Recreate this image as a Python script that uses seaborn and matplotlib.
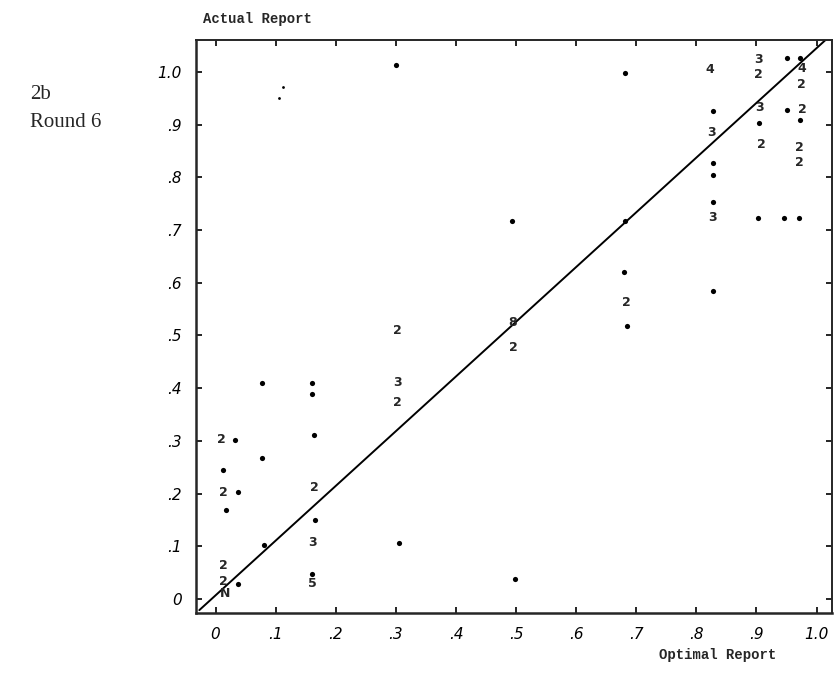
import numpy as np
import pandas as pd
import matplotlib
matplotlib.use('Agg')
import matplotlib.pyplot as plt
import seaborn as sns

sns.set_style('ticks')

##################################################
# Data.
##################################################

# Plain dots (single observations)
dot_x = [0.30, 0.681, 0.493, 0.950, 0.972, 0.827, 0.905, 0.950, 0.972,
         0.827, 0.827, 0.827, 0.902, 0.945, 0.970, 0.681, 0.679, 0.827,
         0.684, 0.078, 0.160, 0.160, 0.163, 0.032, 0.078, 0.013, 0.037,
         0.018, 0.165, 0.080, 0.306, 0.037, 0.161, 0.499]
dot_y = [1.013, 0.998, 0.717, 1.027, 1.027, 0.926, 0.903, 0.928, 0.909,
         0.827, 0.805, 0.753, 0.723, 0.723, 0.723, 0.717, 0.620, 0.584,
         0.518, 0.410, 0.410, 0.389, 0.311, 0.302, 0.268, 0.245, 0.203,
         0.169, 0.150, 0.102, 0.106, 0.028, 0.047, 0.038]

# Faint specks near (.1, .96)
speck_x = [0.112, 0.105]
speck_y = [0.971, 0.951]

# Multiplicity labels written on the chart
lab_x = [0.822, 0.903, 0.903, 0.975, 0.975, 0.825, 0.905, 0.977, 0.908,
         0.972, 0.972, 0.827, 0.684, 0.303, 0.494, 0.496, 0.303, 0.303,
         0.010, 0.013, 0.165, 0.161, 0.013, 0.013, 0.015, 0.161]
lab_y = [1.004, 1.023, 0.996, 1.006, 0.977, 0.886, 0.932, 0.928, 0.863,
         0.856, 0.829, 0.723, 0.562, 0.510, 0.524, 0.478, 0.410, 0.372,
         0.302, 0.203, 0.211, 0.108, 0.063, 0.034, 0.010, 0.030]
lab_text = ['4', '3', '2', '4', '2', '3', '3', '2', '2',
            '2', '2', '3', '2', '2', '8', '2', '3', '2',
            '2', '2', '2', '3', '2', '2', 'N', '5']

# 45-degree reference line (corner to corner as drawn)
line_x = [-0.027, 1.022]
line_y = [-0.021, 1.068]

tick_vals = [0, 0.1, 0.2, 0.3, 0.4, 0.5, 0.6, 0.7, 0.8, 0.9, 1.0]
x_tick_labels = ['0', '.1', '.2', '.3', '.4', '.5', '.6', '.7', '.8', '.9', '1.0']
y_tick_labels = ['0', '.1', '.2', '.3', '.4', '.5', '.6', '.7', '.8', '.9', '1.0']

dots = pd.DataFrame({'optimal': dot_x, 'actual': dot_y})
specks = pd.DataFrame({'optimal': speck_x, 'actual': speck_y})
diag = pd.DataFrame({'optimal': line_x, 'actual': line_y})

##################################################
# Plot.
##################################################

fig = plt.figure(figsize=(8.4, 6.86), dpi=100)
ax = fig.add_axes([0.233, 0.106, 0.757, 0.836])

sns.lineplot(data=diag, x='optimal', y='actual', color='black', lw=1.4, ax=ax)
sns.scatterplot(data=dots, x='optimal', y='actual', color='black', s=14,
                edgecolor='black', linewidth=0, ax=ax)
sns.scatterplot(data=specks, x='optimal', y='actual', color='black', s=4,
                linewidth=0, ax=ax)

for x, y, t in zip(lab_x, lab_y, lab_text):
    ax.text(x, y, t, ha='center', va='center', fontsize=9, fontweight='bold',
            family='DejaVu Sans')

ax.set_xlim(-0.033, 1.025)
ax.set_ylim(-0.027, 1.061)

ax.set_xticks(tick_vals)
ax.set_xticklabels(x_tick_labels, fontsize=11, fontstyle='italic')
ax.set_yticks(tick_vals)
ax.set_yticklabels(y_tick_labels, fontsize=11, fontstyle='italic')
ax.tick_params(axis='both', direction='in', length=4, width=1.2,
               top=True, right=True, pad=10, colors='black')

for side in ['left', 'bottom']:
    ax.spines[side].set_linewidth(1.8)
for side in ['top', 'right']:
    ax.spines[side].set_linewidth(1.4)
    ax.spines[side].set_visible(True)

ax.set_xlabel('')
ax.set_ylabel('')

fig.text(0.242, 0.972, 'Actual Report', family='Liberation Mono',
         fontsize=10, fontweight='bold', ha='left', va='center')
fig.text(0.785, 0.045, 'Optimal Report', family='Liberation Mono',
         fontsize=10, fontweight='bold', ha='left', va='center')
fig.text(0.036, 0.862, '2b', family='Liberation Serif', fontsize=15,
         ha='left', va='center')
fig.text(0.036, 0.822, 'Round 6', family='Liberation Serif', fontsize=15,
         ha='left', va='center')

plt.savefig('out.png', dpi=100)
